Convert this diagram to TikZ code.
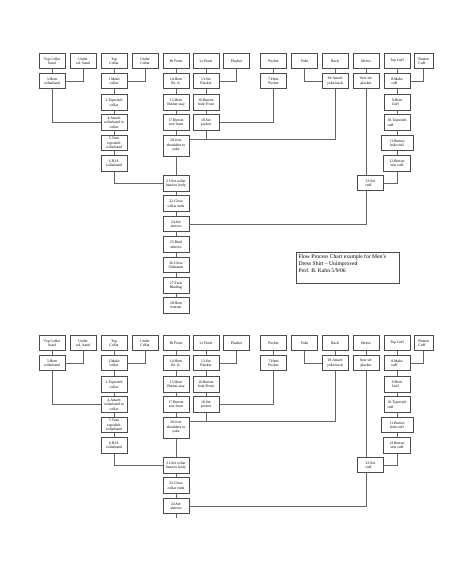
\documentclass[tikz,border=0pt]{standalone}
\usepackage{fontspec}
\setmainfont{Liberation Serif}
\usetikzlibrary{positioning}

\tikzset{
	opbox/.style={shape=rectangle,draw=black!70,line width=0.7pt,fill=white,
		minimum width=26pt,minimum height=15.5pt,inner sep=0.4pt,
		align=center,font=\fontsize{3.8}{4.4}\selectfont},
	link/.style={draw=black!60,line width=0.6pt},
	notebox/.style={shape=rectangle,draw=black!70,line width=0.7pt,inner sep=2.5pt,
		font=\fontsize{5.6}{6.9}\selectfont},
}

% one copy of the shirt chart (collar, fronts, back, sleeves, cuffs)
\newcommand{\shirtchart}{%
	% parts
	\node[opbox] (tcb) at (52, 61)    {Top Collar\\band};
	\node[opbox] (ucb) at (83, 61)    {Under\\col. band};
	\node[opbox] (tc)  at (114, 61)   {Top\\Collar};
	\node[opbox] (uc)  at (145, 61)   {Under\\Collar};
	\node[opbox] (rf)  at (176, 61)   {Rt Front};
	\node[opbox] (lf)  at (206, 61)   {Lt Front};
	\node[opbox] (pl)  at (236.5, 61) {Placket};
	\node[opbox] (pk)  at (273.5, 61) {Pocket};
	\node[opbox] (yk)  at (304.5, 61) {Yoke};
	\node[opbox] (bk)  at (335, 61)   {Back};
	\node[opbox] (sl)  at (366, 61)   {Sleeve};
	\node[opbox] (tcf) at (397, 61)   {Top Cuff};
	\node[opbox,minimum width=19pt,align=left] (bcf) at (423.5, 61) {Button\\Cuff};

	% operations
	\node[opbox] (s3)  at (52, 81)    {3.Hem\\collarband};
	\node[opbox] (s1)  at (114, 81)   {1.Make\\collar};
	\node[opbox] (s14) at (176, 81)   {14.Hem\\Rt. fr.};
	\node[opbox] (s13) at (206, 81)   {13.Set\\Placket};
	\node[opbox] (s7)  at (273.5, 81) {7.Hem\\Pocket};
	\node[opbox] (s19) at (335, 81)   {19.Attach\\yoke-back};
	\node[opbox] (sp)  at (366, 81)   {Sew slv\\placket};
	\node[opbox,align=left] (s8)  at (397, 81) {8.Make\\cuff};

	\node[opbox] (s2)  at (114, 102.5) {2.Topstitch\\collar};
	\node[opbox] (s15) at (176, 102.5) {15.Hem\\Button stay};
	\node[opbox] (s16) at (206, 102.5) {16.Button\\hole Front};
	\node[opbox,align=left] (s9)  at (397, 102.5) {9.Hem\\Cuff};

	\node[opbox] (s4)  at (114, 122.5) {4.Attach\\collarband to\\collar};
	\node[opbox] (s17) at (176, 122.5) {17.Button\\sew front};
	\node[opbox] (s18) at (206, 122.5) {18.Set\\pocket};
	\node[opbox,align=left] (s10) at (397, 122.5) {10.Topstitch\\cuff};

	\node[opbox] (s5)  at (114, 143)   {5.Turn\\topstitch\\collarband};
	\node[opbox,minimum height=21pt] (s20) at (176, 145.5) {20.Join\\shoulders to\\yoke};
	\node[opbox,minimum width=32pt] (s11) at (397, 143) {11.Button\\hole cuff};

	\node[opbox] (s6)  at (114, 163.5) {6.B.H.\\collarband};
	\node[opbox,minimum width=27pt] (s12) at (397, 163.5) {12.Button\\sew cuff};

	\node[opbox] (s21) at (176, 183.5) {21.Set collar\\band to body};
	\node[opbox,align=left] (s23) at (370.5, 183) {23.Set\\cuff};
	\node[opbox] (s22) at (176, 203.5) {22.Close\\collar ends};
	\node[opbox] (s24) at (176, 224)   {24.Set\\sleeves};

	% collar
	\path[link] (tcb) edge (s3);
	\draw[link] (ucb) |- (s3);
	\path[link] (tc) edge (s1);
	\draw[link] (uc) |- (s1);
	\path[link] (s1) edge (s2);
	\path[link] (s2) edge (s4);
	\draw[link] (s3) |- (s4);
	\path[link] (s4) edge (s5);
	\path[link] (s5) edge (s6);
	\draw[link] (s6) |- (s21);
	% fronts
	\path[link] (rf) edge (s14);
	\path[link] (s14) edge (s15);
	\path[link] (s15) edge (s17);
	\path[link] (s17) edge (s20);
	\path[link] (lf) edge (s13);
	\draw[link] (pl) |- (s13);
	\path[link] (s13) edge (s16);
	\path[link] (s16) edge (s18);
	\path[link] (pk) edge (s7);
	\draw[link] (s7) |- (s18);
	% back
	\path[link] (bk) edge (s19);
	\draw[link] (yk) |- (s19);
	\coordinate (j20) at ([yshift=-5pt]s20.north east);
	\draw[link] (s19) |- (j20);
	\draw[link] (s18) -- (s18 |- j20);
	% body
	\path[link] (s20) edge (s21);
	\path[link] (s21) edge (s22);
	\path[link] (s22) edge (s24);
	% cuffs and sleeves
	\path[link] (tcf) edge (s8);
	\draw[link] (bcf) |- (s8);
	\path[link] (s8) edge (s9);
	\path[link] (s9) edge (s10);
	\path[link] (s10) edge (s11);
	\path[link] (s11) edge (s12);
	\draw[link] (s12) |- (s23);
	\path[link] (sl) edge (sp);
	\draw[link] (sp) -- (sp |- s23.north);
	\draw[link] (s23.south -| sp) |- (s24);
}

\begin{document}
\begin{tikzpicture}[x=1pt,y=-1pt]
	\useasboundingbox[fill=white] (0,0) rectangle (474,576);

	% first page
	\begin{scope}[name prefix=up-]
		\shirtchart
		\node[opbox] (s25) at (176, 244.5) {25.Bind\\sleeves};
		\node[opbox] (s26) at (176, 265)   {26.Close\\Sideseam};
		\node[opbox] (s27) at (176, 285.5) {27.Tack\\Binding};
		\node[opbox] (s28) at (176, 305.5) {28.Hem\\bottom};
		\path[link] (s24) edge (s25);
		\path[link] (s25) edge (s26);
		\path[link] (s26) edge (s27);
		\path[link] (s27) edge (s28);

		\node[notebox] (note) at (347.5, 267.5)
			{\parbox[t][26pt][t]{98pt}{Flow Process Chart example for Men’s\\
			Dress Shirt -- Unimproved\\Prof. B. Kahn 5/9/06}};
	\end{scope}

	% second page
	\begin{scope}[name prefix=low-,shift={(0,282)}]
		\shirtchart
		\coordinate (tail) at ([yshift=-4pt]s24.south);
		\draw[link] (s24) -- (tail);
	\end{scope}
\end{tikzpicture}
\end{document}
